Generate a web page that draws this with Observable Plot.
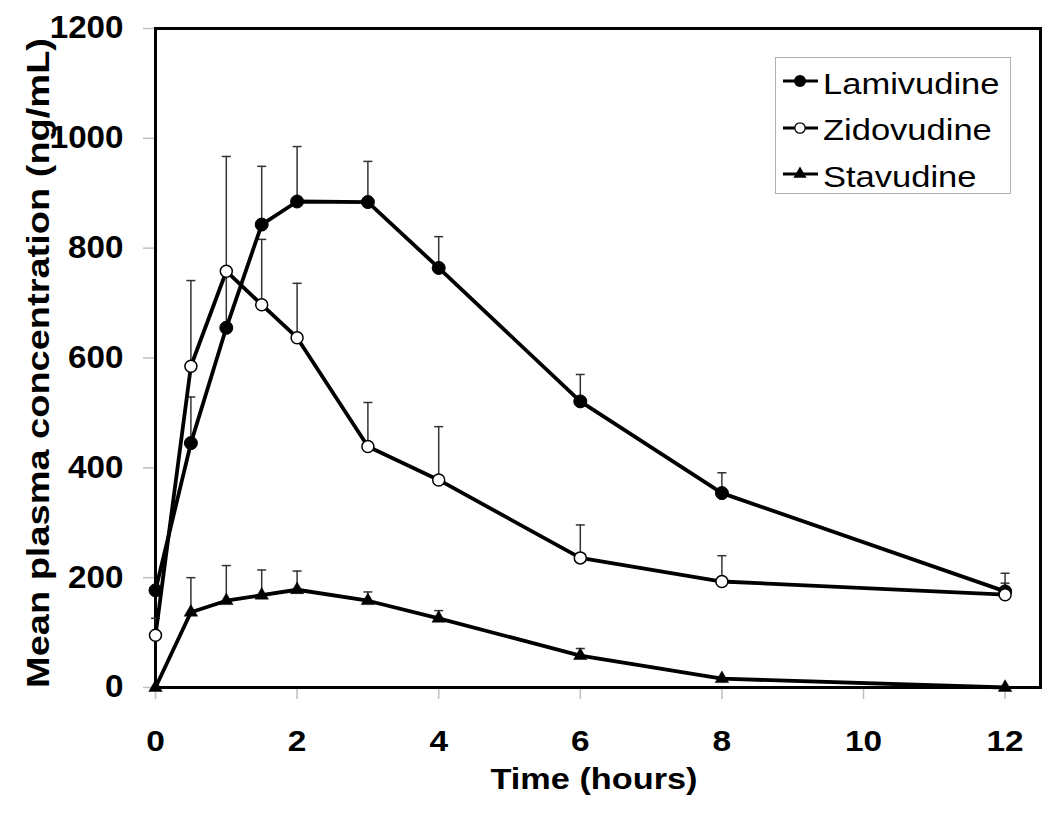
<!DOCTYPE html>
<html>
<head>
<meta charset="utf-8">
<script src="https://cdn.jsdelivr.net/npm/d3@7"></script>
<script src="https://cdn.jsdelivr.net/npm/@observablehq/plot@0.6"></script>
<style>
  html, body { margin: 0; padding: 0; background: white; }
  #wrap { position: relative; width: 1050px; height: 814px; }
  #legend { position: absolute; left: 775px; top: 57px; }
</style>
</head>
<body>
<div id="wrap"></div>
<script>
// ---- data ----
const time = [0, 0.5, 1, 1.5, 2, 3, 4, 6, 8, 12];
const lamivudine    = [177, 445, 655, 843, 885, 884, 764, 521, 354, 175];
const lamivudineTop = [null, 529, 755, 949, 985, 958, 821, 570, 391, 208];
const zidovudine    = [95, 585, 758, 697, 637, 439, 378, 236, 193, 169];
const zidovudineTop = [126, 741, 967, 816, 736, 519, 475, 296, 240, 190];
const stavudine     = [0, 137, 158, 168, 178, 158, 126, 58, 16, 0];
const stavudineTop  = [null, 200, 222, 214, 212, 174, 140, 71, null, null];
const seriesNames = ["Lamivudine", "Zidovudine", "Stavudine"];
const xTicks = [0, 2, 4, 6, 8, 10, 12];
const yTicks = [0, 200, 400, 600, 800, 1000, 1200];
const xTitle = "Time (hours)";
const yTitle = "Mean plasma concentration (ng/mL)";

const seriesValues = [lamivudine, zidovudine, stavudine];
const seriesTops = [lamivudineTop, zidovudineTop, stavudineTop];

const rows = [];
seriesNames.forEach((name, s) => {
  time.forEach((t, i) => rows.push({series: name, t, v: seriesValues[s][i], top: seriesTops[s][i]}));
});
const errRows = rows.filter(d => d.top != null);
const bySeries = name => rows.filter(d => d.series === name);

const capSymbol = {
  draw(context) { context.moveTo(-4.5, 0); context.lineTo(4.5, 0); }
};

const font = "'Liberation Sans', Arial, sans-serif";

const chart = Plot.plot({
  width: 1050,
  height: 814,
  marginLeft: 155,
  marginRight: 10,
  marginTop: 28,
  marginBottom: 127,
  x: {domain: [0, 12.5], label: null},
  y: {domain: [0, 1200], label: null},
  style: {fontFamily: font, fontSize: "30px", fontWeight: "bold", background: "white", color: "black"},
  marks: [
    Plot.axisY({ticks: yTicks, tickFormat: d => String(d), tickSize: 12, tickPadding: 20, stroke: "#c0c0c0", strokeWidth: 1.5, fill: "black", fontSize: 31, fontWeight: "bold", label: null}),
    Plot.axisX({ticks: xTicks, tickFormat: d => String(d), tickSize: 12, tickPadding: 31, stroke: "#c0c0c0", strokeWidth: 1.5, fill: "black", fontSize: 29, fontWeight: "bold", label: null}),
    Plot.frame({stroke: "black", strokeWidth: 3}),
    Plot.ruleX(errRows, {x: "t", y1: "v", y2: "top", stroke: "#333", strokeWidth: 1.5}),
    Plot.dot(errRows, {x: "t", y: "top", symbol: capSymbol, r: 4, fill: "none", stroke: "#333", strokeWidth: 1.5}),
    Plot.line(rows, {x: "t", y: "v", z: "series", stroke: "black", strokeWidth: 3.8}),
    Plot.dot(bySeries("Lamivudine"), {x: "t", y: "v", r: 6.5, fill: "black", stroke: "black", strokeWidth: 1}),
    Plot.dot(bySeries("Zidovudine"), {x: "t", y: "v", r: 6, fill: "white", stroke: "black", strokeWidth: 1.5}),
    Plot.dot(bySeries("Stavudine"), {x: "t", y: "v", symbol: "triangle", r: 5, fill: "black", stroke: "black", strokeWidth: 0.5}),
    Plot.text([xTitle], {text: d => d, frameAnchor: "bottom", textAnchor: "middle", lineAnchor: "middle", dx: -4, dy: 92, fontSize: 30, fontWeight: "bold", fill: "black"}),
    Plot.text([yTitle], {text: d => d, frameAnchor: "left", textAnchor: "middle", lineAnchor: "middle", dx: -116, dy: 5, rotate: -90, fontSize: 31, fontWeight: "bold", fill: "black"})
  ]
});

const wrap = document.getElementById("wrap");
wrap.appendChild(chart);

// ---- legend overlay ----
const lg = d3.select(wrap).append("svg")
  .attr("id", "legend").attr("width", 237).attr("height", 138)
  .style("font-family", font);
lg.append("rect").attr("x", 0.5).attr("y", 0.5).attr("width", 235).attr("height", 136)
  .attr("fill", "white").attr("stroke", "#b0b0b0").attr("stroke-width", 1);
const rowY = [24, 71, 117];
const baseY = [37, 83, 130];
seriesNames.forEach((name, i) => {
  const g = lg.append("g");
  g.append("line").attr("x1", 8).attr("x2", 43).attr("y1", rowY[i]).attr("y2", rowY[i])
    .attr("stroke", "black").attr("stroke-width", 3);
  if (i === 0) g.append("circle").attr("cx", 25).attr("cy", rowY[i]).attr("r", 6).attr("fill", "black");
  if (i === 1) g.append("circle").attr("cx", 25).attr("cy", rowY[i]).attr("r", 5.2).attr("fill", "white").attr("stroke", "black").attr("stroke-width", 1.3);
  if (i === 2) g.append("path").attr("transform", `translate(25,${rowY[i]})`).attr("d", d3.symbol(d3.symbolTriangle, 75)()).attr("fill", "black");
  g.append("text").attr("class", "lgtext").attr("x", 48).attr("y", baseY[i])
    .attr("font-size", 30).attr("fill", "black").text(name);
});

// ---- mimic the horizontally stretched lettering of the reference ----
function stretch(sel, k) {
  sel.each(function() {
    const L = this.getComputedTextLength();
    if (L > 0) {
      this.setAttribute("textLength", (L * k).toFixed(1));
      this.setAttribute("lengthAdjust", "spacingAndGlyphs");
    }
  });
}
function stretchTo(sel, target) {
  sel.each(function() {
    this.setAttribute("textLength", target);
    this.setAttribute("lengthAdjust", "spacingAndGlyphs");
  });
}
const svg = d3.select(chart);
stretch(svg.selectAll('g[aria-label="x-axis tick label"] text'), 1.15);
stretch(svg.selectAll('g[aria-label="y-axis tick label"] text'), 1.07);
stretchTo(svg.selectAll("text").filter(function() { return this.textContent === xTitle; }), 207);
stretchTo(svg.selectAll("text").filter(function() { return this.textContent === yTitle; }), 650);
stretch(lg.selectAll("text.lgtext"), 1.15);
</script>
</body>
</html>
